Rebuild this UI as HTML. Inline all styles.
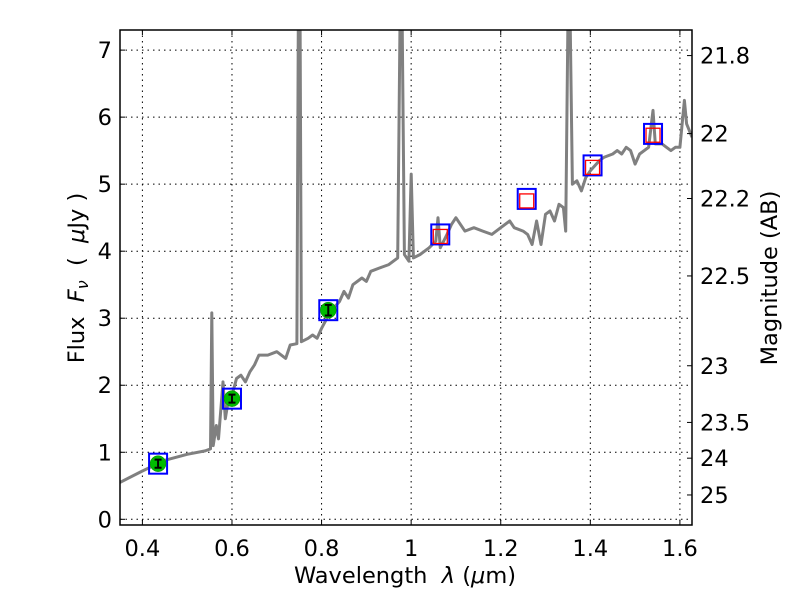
<!DOCTYPE html>
<html><head><meta charset="utf-8"><style>
body{margin:0;background:#fff;}
svg{display:block;font-family:"DejaVu Sans","Liberation Sans",sans-serif;}
text{white-space:pre;}
</style></head><body>
<svg id="chart" width="800" height="600">
<rect width="800" height="600" fill="#fff"/>
<g id="grid"></g>
<g id="plot"></g>
<g id="axes"></g>
<text x="405" y="583" font-size="22.5" text-anchor="middle">Wavelength  <tspan font-style="italic">λ</tspan> (<tspan font-style="italic">μ</tspan>m)</text>
<text transform="translate(84,278) rotate(-90)" font-size="22.5" text-anchor="middle">Flux  <tspan font-style="italic">F<tspan font-size="16" dy="4">ν</tspan></tspan><tspan dy="-4">  (  </tspan><tspan font-style="italic">μ</tspan>Jy )</text>
<text transform="translate(777,278) rotate(-90)" font-size="22.5" text-anchor="middle">Magnitude (AB)</text>
</svg>
<script>
const specWave=[0.35,0.40,0.45,0.50,0.54,0.552,0.555,0.558,0.565,0.57,0.58,0.585,0.59,0.60,0.61,0.62,0.63,0.64,0.65,0.66,0.68,0.70,0.72,0.73,0.745,0.748,0.752,0.755,0.77,0.78,0.79,0.80,0.82,0.84,0.85,0.86,0.87,0.89,0.90,0.91,0.93,0.95,0.97,0.975,0.98,0.985,0.995,1.0,1.005,1.02,1.04,1.055,1.06,1.065,1.08,1.09,1.10,1.12,1.14,1.16,1.18,1.20,1.22,1.23,1.25,1.26,1.27,1.28,1.29,1.30,1.31,1.32,1.33,1.34,1.345,1.35,1.355,1.36,1.37,1.38,1.39,1.40,1.42,1.43,1.45,1.46,1.47,1.48,1.49,1.50,1.51,1.53,1.54,1.545,1.56,1.57,1.58,1.59,1.60,1.61,1.615,1.627];
const specFlux=[0.55,0.72,0.88,0.97,1.02,1.05,3.08,1.1,1.4,1.2,2.05,1.5,1.7,1.85,2.1,2.15,2.05,2.2,2.3,2.45,2.45,2.5,2.4,2.6,2.62,7.4,7.4,2.65,2.7,2.75,2.7,2.85,3.1,3.25,3.4,3.3,3.5,3.6,3.55,3.7,3.75,3.8,3.9,7.4,7.4,3.95,3.85,5.15,3.9,3.95,4.05,4.15,4.5,4.05,4.25,4.4,4.5,4.3,4.35,4.3,4.25,4.35,4.45,4.35,4.3,4.25,4.1,4.45,4.1,4.55,4.6,4.45,4.7,4.65,4.3,7.4,7.4,5.0,5.05,4.9,5.1,5.2,5.35,5.4,5.45,5.5,5.45,5.55,5.5,5.3,5.45,5.55,6.1,5.6,5.6,5.55,5.5,5.55,5.55,6.25,5.9,5.7];
const photWave=[0.435,0.60,0.815];
const photFlux=[0.83,1.8,3.12];
const photErr=[0.06,0.06,0.08];
const modelWave=[0.435,0.60,0.815,1.065,1.258,1.405,1.54];
const modelFlux=[0.83,1.8,3.12,4.25,4.78,5.28,5.75];
const nirWave=[1.065,1.258,1.405,1.54];
const nirFlux=[4.22,4.75,5.25,5.73];
const xTicks=[0.4,0.6,0.8,1.0,1.2,1.4,1.6];
const xTickLabels=["0.4","0.6","0.8","1","1.2","1.4","1.6"];
const yTicks=[0,1,2,3,4,5,6,7];
const magTicks=[21.8,22,22.2,22.5,23,23.5,24,25];
const magLabels=["21.8","22","22.2","22.5","23","23.5","24","25"];

const L=120,R=692,T=30,B=525,X0=0.35,X1=1.627,Y0=-0.085,Y1=7.3;
const NS="http://www.w3.org/2000/svg";
const xs=v=>L+(v-X0)/(X1-X0)*(R-L);
const ys=v=>B-(v-Y0)/(Y1-Y0)*(B-T);
function mk(tag,attrs,parent){const e=document.createElementNS(NS,tag);for(const k in attrs)e.setAttribute(k,attrs[k]);parent.appendChild(e);return e;}
const grid=document.getElementById('grid'),plot=document.getElementById('plot'),axes=document.getElementById('axes');
const defs=mk('defs',{},document.getElementById('chart'));
const cp=mk('clipPath',{id:'clip'},defs);mk('rect',{x:L,y:T,width:R-L,height:B-T},cp);
plot.setAttribute('clip-path','url(#clip)');
xTicks.forEach((t,i)=>{
  const x=xs(t);
  const g=mk('line',{x1:x,x2:x,y1:T,y2:B,stroke:'#000','stroke-width':1,'stroke-dasharray':'1.5,4'},grid);
  
  
  mk('line',{x1:x,x2:x,y1:B,y2:B-5,stroke:'#000'},axes);
  mk('line',{x1:x,x2:x,y1:T,y2:T+5,stroke:'#000'},axes);
  const tx=mk('text',{x:x,y:B+31,'font-size':22.5,'text-anchor':'middle'},axes);
  tx.textContent=xTickLabels[i];
  
  
});
yTicks.forEach(t=>{
  const y=ys(t);
  const g=mk('line',{x1:L,x2:R,y1:y,y2:y,stroke:'#000','stroke-width':1,'stroke-dasharray':'1.5,4'},grid);
  
  
  mk('line',{x1:L,x2:L+5,y1:y,y2:y,stroke:'#000'},axes);
  const tx=mk('text',{x:L-8,y:y+8,'font-size':22.5,'text-anchor':'end'},axes);
  tx.textContent=String(t);
  
  
});
magTicks.forEach((m,i)=>{
  const f=Math.pow(10,(23.9-m)/2.5);const y=ys(f);
  mk('line',{x1:R-5,x2:R,y1:y,y2:y,stroke:'#000'},axes);
  const tx=mk('text',{x:R+8,y:y+8,'font-size':22.5},axes);
  tx.textContent=magLabels[i];
  
  
});
mk('rect',{x:L,y:T,width:R-L,height:B-T,fill:'none',stroke:'#000','stroke-width':1.5},axes);
const pts=specWave.map((w,i)=>xs(w).toFixed(1)+','+ys(specFlux[i]).toFixed(1)).join(' ');
const sp=mk('polyline',{points:pts,fill:'none',stroke:'#808080','stroke-width':3,'stroke-linejoin':'round'},plot);


modelWave.forEach((w,i)=>{
  const r=mk('rect',{x:xs(w)-9,y:ys(modelFlux[i])-10,width:18,height:20,fill:'none',stroke:'#0000ff','stroke-width':2},plot);
  
  
});
nirWave.forEach((w,i)=>{
  const r=mk('rect',{x:xs(w)-7,y:ys(nirFlux[i])-7,width:14,height:14,fill:'none',stroke:'#ff0000','stroke-width':1.3},plot);
  
  
});
photWave.forEach((w,i)=>{
  const x=xs(w),y=ys(photFlux[i]);
  const c=mk('circle',{cx:x,cy:y,r:8,fill:'#00bb00',stroke:'#008800','stroke-width':0.5},plot);
  
  
  const y1=ys(photFlux[i]+photErr[i]),y2=ys(photFlux[i]-photErr[i]);
  const e=mk('path',{d:`M${x},${y1}V${y2}M${x-3.5},${y1}H${x+3.5}M${x-3.5},${y2}H${x+3.5}`,stroke:'#000','stroke-width':2,fill:'none'},plot);
  
  
});
</script>
</body></html>
